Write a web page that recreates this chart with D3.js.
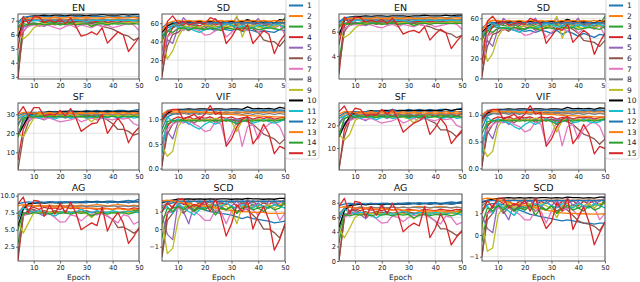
<!DOCTYPE html>
<html>
<head>
<meta charset="utf-8">
<script src="https://cdn.jsdelivr.net/npm/d3@7"></script>
<style>
  body { margin: 0; background: #fff; }
  svg { display: block; font-family: "DejaVu Sans", sans-serif; }
</style>
</head>
<body>
<div id="chart"></div>
<script>
// epochs sampled every 2 epochs
const epochs = [4, 6, 8, 10, 12, 14, 16, 18, 20, 22, 24, 26, 28, 30, 32, 34, 36, 38, 40, 42, 44, 46, 48, 50];
const seriesNames = ["1", "2", "3", "4", "5", "6", "7", "8", "9", "10", "11", "12", "13", "14", "15"];
const seriesColors = ["#1f77b4", "#ff7f0e", "#2ca02c", "#d62728", "#9467bd", "#8c564b", "#e377c2", "#7f7f7f",
  "#bcbd22", "#000000", "#17becf", "#1f77b4", "#ff7f0e", "#2ca02c", "#d62728"];
const xTicks = [10, 20, 30, 40, 50];

// ---- left figure ----
const EN_L = [
  [6.6,7.0,7.05,7.0,7.0,6.95,7.0,6.95,6.9,6.95,6.9,6.95,6.9,6.9,6.85,6.9,6.9,6.85,6.9,6.85,6.9,6.85,6.9,6.9],
  [6.3,7.0,7.1,7.1,7.15,7.1,7.15,7.1,7.15,7.1,7.1,7.15,7.1,7.15,7.1,7.1,7.15,7.1,7.1,7.15,7.1,7.1,7.1,7.15],
  [4.0,6.6,6.8,6.85,6.8,6.9,6.85,6.9,6.8,6.85,6.9,6.85,6.8,6.85,6.9,6.85,6.9,6.85,6.8,6.9,6.85,6.9,6.85,6.95],
  [2.85,6.9,7.0,7.1,7.0,6.9,7.05,7.0,6.95,7.0,6.9,7.0,6.95,7.0,6.9,6.95,7.0,6.9,6.95,7.0,6.9,6.95,7.0,7.0],
  [6.0,6.5,6.7,6.8,6.7,6.6,6.8,6.75,6.8,6.7,6.8,6.75,6.8,6.85,6.8,6.75,6.8,6.8,6.85,6.8,6.9,6.85,6.8,6.9],
  [3.2,6.2,6.7,6.8,6.7,6.75,6.8,6.7,6.8,6.75,6.8,6.7,6.8,6.75,6.8,6.7,6.6,6.5,6.4,6.2,6.0,5.9,5.6,5.8],
  [5.8,6.3,6.6,6.7,6.6,6.7,6.65,6.5,6.4,6.6,6.7,6.5,6.7,6.6,6.5,6.7,6.6,6.7,6.5,6.6,6.7,6.8,6.7,6.3],
  [6.5,7.0,7.1,7.1,7.05,7.1,7.05,7.1,7.1,7.05,7.1,7.1,7.05,7.1,7.1,7.05,7.1,7.1,7.05,7.1,7.1,7.1,7.05,7.1],
  [6.2,5.7,6.0,6.5,6.7,6.8,6.75,6.8,6.7,6.8,6.75,6.8,6.85,6.8,6.6,6.8,6.85,6.8,6.85,6.8,6.85,6.9,6.85,6.9],
  [5.8,7.0,7.3,7.35,7.35,7.4,7.35,7.4,7.4,7.35,7.4,7.4,7.4,7.35,7.4,7.4,7.45,7.4,7.4,7.4,7.45,7.4,7.45,7.45],
  [6.8,7.1,6.9,7.0,7.05,7.0,6.9,7.0,7.05,6.95,7.0,7.05,7.0,6.95,7.0,7.05,7.0,7.05,7.0,7.05,7.0,7.05,7.0,7.05],
  [6.9,7.25,7.3,7.3,7.25,7.3,7.3,7.25,7.3,7.3,7.25,7.3,7.3,7.25,7.3,7.3,7.3,7.25,7.3,7.3,7.25,7.3,7.35,7.3],
  [6.4,7.1,7.2,7.2,7.25,7.2,7.2,7.25,7.2,7.2,7.25,7.2,7.2,7.25,7.2,7.2,7.2,7.25,7.2,7.25,7.2,7.2,7.25,7.2],
  [6.5,6.8,6.7,6.75,6.8,6.7,6.75,6.8,6.7,6.75,6.8,6.7,6.75,6.8,6.6,6.75,6.8,6.7,6.8,6.75,6.8,6.75,6.8,6.75],
  [5.0,7.3,6.8,7.3,7.25,6.9,7.0,6.9,7.1,6.8,7.2,6.6,5.9,6.0,6.2,6.0,6.5,5.4,5.8,6.2,6.0,4.8,5.3,5.8]
];
const SD_L = [
  [40,55,57,56,55,56,54,55,53,54,52,54,53,52,54,51,53,52,50,52,51,50,53,52],
  [50,58,60,61,60,62,61,60,61,62,60,61,62,61,60,61,62,61,60,61,62,61,60,61],
  [30,52,55,58,57,56,58,55,57,58,56,57,55,58,57,56,58,57,56,58,57,56,58,66],
  [2,45,55,60,58,62,59,57,60,61,58,60,59,61,58,60,62,59,60,61,58,60,59,61],
  [20,42,38,55,66,60,58,62,57,60,65,58,62,60,66,58,63,60,65,58,60,56,58,55],
  [5,35,48,50,55,52,56,54,55,57,53,56,55,57,54,55,57,54,50,42,40,40,35,42],
  [30,45,50,55,52,56,54,52,47,48,52,56,45,50,56,55,52,58,50,55,57,54,58,47],
  [45,57,59,58,60,59,58,60,59,58,60,59,58,60,59,58,60,59,58,60,59,58,60,59],
  [45,21,30,45,55,57,56,55,58,57,56,55,57,56,68,45,58,57,56,55,57,56,58,57],
  [50,57,60,61,62,61,62,62,61,62,62,61,62,62,61,62,64,62,62,61,62,60,64,63],
  [48,50,58,56,54,55,52,50,53,55,54,56,60,58,55,57,56,55,58,56,55,60,58,56],
  [55,60,61,60,61,60,61,60,61,60,61,60,61,60,61,60,61,60,61,60,61,60,61,60],
  [52,60,62,63,62,63,62,63,62,63,62,63,62,63,62,63,62,63,62,63,62,63,62,63],
  [45,52,50,54,55,53,55,54,53,55,54,52,55,54,53,55,54,55,53,54,55,54,53,56],
  [15,62,68,60,62,58,60,61,59,66,64,60,38,45,55,52,58,38,45,52,48,27,40,48]
];
const SF_L = [
  [25,29,30,30.5,31,30.5,31,31.5,31,31.5,32,31.5,31,32,31.5,32,31.5,32,31.5,32,32,31.5,32,32.5],
  [27,30,30.5,30,30.5,30,30.5,30,30.5,30,30.5,30,30.5,30,30.5,30,30,30.5,30,30.5,30,30.5,30,30.5],
  [18,27,29,29.5,29,29.5,29,29.5,29,29.5,29,29.5,29,29.5,29,29.5,29,29.5,29,29.5,29,29.5,29,30],
  [6,22,28,30,29.5,30,29,30,29.5,30,29,30,29.5,30,29,30,29.5,30,29,30,29.5,30,29,30],
  [20,26,28,29,28,27,29,28.5,29,28,29,28.5,29,28.5,29,28,29,28.5,29,28,29,28.5,29,28.5],
  [1,18,26,29,28.5,29,28,29,28.5,29,28,29,28.5,29,28,29,28.5,27,25,22,22,21,19,20],
  [18,24,27,28,28,27.5,28,27,26,26.5,27,28,26,27,28,27,28,27.5,27,28,27.5,28,25,24],
  [24,29,30,30,29.5,30,29.5,30,29.5,30,29.5,30,29.5,30,29.5,30,29.5,30,29.5,30,29.5,30,29.5,30],
  [20,18,23,28,30,29.5,29,29.5,29,29.5,29,29.5,29,28,26,28.5,29,29.5,29,29.5,29,29.5,29,29.5],
  [19,24,29,30.5,31,31,31.5,31,31.5,31.5,31,31.5,31.5,31.5,31.5,31.5,31.5,31.5,31.5,31.5,31.5,31.5,31.5,31.5],
  [28,29,30,29,28,29,28.5,27.5,28.5,29,28,28.5,29,28,28.5,29,28,28.5,29,28,28.5,29,28,28.5],
  [29,30.5,31,31,31,31,31,31,31,31,31,31,31,31,31,31,31,31,31,31,31,31,31,31],
  [30,31,31,30.5,31,30.5,31,30.5,31,30.5,31,30.5,31,30.5,31,30.5,31,30.5,31,30.5,31,30.5,31,30.5],
  [18,28,29,28.5,29,28.5,29,28.5,29,28.5,29,28.5,29,28.5,29,28.5,29,28.5,29,28.5,29,28.5,29,28.5],
  [30,34,29,33.5,33.5,29,30,29.5,32,29,33,28,21,23,25,25.5,30,20,24,28,24,15,20,23]
];
const VIF_L = [
  [0.8,1.05,1.1,1.12,1.15,1.12,1.15,1.12,1.15,1.13,1.15,1.12,1.15,1.13,1.15,1.14,1.16,1.15,1.16,1.15,1.17,1.16,1.17,1.16],
  [0.9,1.12,1.15,1.14,1.15,1.14,1.15,1.14,1.15,1.14,1.15,1.14,1.15,1.14,1.15,1.14,1.15,1.14,1.15,1.14,1.15,1.14,1.15,1.14],
  [0.5,0.9,0.95,1.0,0.98,1.0,0.97,1.0,0.98,1.0,0.97,1.0,0.98,1.0,0.97,1.0,0.98,1.0,0.97,1.0,0.98,1.0,0.97,1.02],
  [0.05,0.85,1.0,1.05,1.02,1.05,1.0,1.05,1.02,1.05,1.0,1.05,1.02,1.05,1.0,1.03,1.05,1.0,1.04,1.02,1.05,1.0,1.03,1.04],
  [0.5,0.75,0.6,0.95,1.0,0.9,1.0,0.98,1.02,0.98,1.0,0.97,1.02,0.98,1.0,0.97,1.02,0.98,1.0,0.97,1.02,0.98,1.0,0.98],
  [0.1,0.7,0.9,1.0,0.95,1.0,0.92,1.0,0.96,1.0,0.94,1.0,0.96,1.0,0.94,0.98,0.95,0.9,0.8,0.7,0.65,0.6,0.5,0.6],
  [0.6,0.8,0.9,0.95,0.92,0.98,0.9,0.85,0.75,0.78,0.95,0.9,0.5,0.7,0.95,0.45,0.85,0.9,0.6,0.8,0.9,0.95,0.85,0.6],
  [0.95,1.1,1.12,1.1,1.12,1.1,1.12,1.1,1.12,1.1,1.12,1.1,1.12,1.1,1.12,1.1,1.12,1.1,1.12,1.1,1.12,1.1,1.12,1.1],
  [0.45,0.25,0.35,0.85,1.0,0.98,1.0,0.97,1.0,0.98,1.02,0.98,1.0,0.95,0.75,0.98,1.0,0.97,1.0,0.98,1.0,0.97,1.0,1.0],
  [1.0,1.12,1.18,1.2,1.2,1.21,1.2,1.21,1.21,1.2,1.21,1.21,1.2,1.21,1.21,1.2,1.25,1.21,1.22,1.21,1.22,1.2,1.24,1.22],
  [0.3,1.05,0.95,1.0,0.95,0.92,0.85,0.8,0.9,0.95,0.9,0.95,1.0,0.95,0.92,0.95,1.0,0.92,0.95,1.0,0.95,0.92,0.95,1.0],
  [1.05,1.18,1.19,1.18,1.19,1.18,1.19,1.18,1.19,1.18,1.19,1.18,1.19,1.18,1.19,1.18,1.19,1.18,1.19,1.18,1.19,1.18,1.19,1.18],
  [1.1,1.17,1.18,1.17,1.16,1.17,1.16,1.15,1.14,1.13,1.12,1.11,1.1,1.1,1.09,1.08,1.08,1.07,1.07,1.06,1.06,1.05,1.05,1.05],
  [0.7,0.95,0.98,0.96,0.98,0.96,0.98,0.96,0.98,0.96,0.98,0.96,0.98,0.96,0.9,0.96,0.98,0.96,0.98,0.96,0.98,0.96,0.98,1.0],
  [1.0,1.15,1.2,1.2,1.0,1.05,1.1,1.0,1.1,1.28,1.1,1.15,0.45,0.6,0.85,1.0,1.05,0.5,0.65,0.9,0.7,0.3,0.45,0.4]
];
const AG_L = [
  [6.5,8.5,8.8,8.9,9.0,9.0,9.1,9.0,9.1,9.1,9.0,9.1,9.1,9.2,9.1,9.2,9.1,9.2,9.2,9.1,9.2,9.3,9.2,9.5],
  [7.0,8.5,8.6,8.5,8.6,8.5,8.6,8.5,8.6,8.5,8.6,8.5,8.6,8.5,8.6,8.7,8.6,8.5,8.6,8.7,8.6,8.5,8.6,8.5],
  [3.0,7.2,7.5,7.6,7.5,7.6,7.5,7.6,7.5,7.6,7.5,7.6,7.5,7.6,7.5,7.6,7.5,7.6,7.5,7.6,7.5,7.6,7.8,8.0],
  [0.5,7.0,8.0,8.3,8.0,8.3,8.1,8.2,8.0,8.3,8.1,8.2,8.0,8.2,8.1,8.0,8.2,8.1,8.0,8.2,8.1,8.0,8.2,8.1],
  [5.5,7.5,7.3,7.8,7.4,7.0,7.6,7.5,7.7,7.4,7.6,7.5,7.7,7.5,7.6,7.4,7.7,7.5,7.6,7.4,7.7,7.6,7.5,7.7],
  [1.5,7.0,7.8,8.0,7.6,7.8,7.5,7.8,7.6,7.8,7.5,7.7,7.6,7.8,7.5,7.7,7.4,7.0,6.5,5.3,5.4,5.0,4.5,5.0],
  [5.8,7.0,7.4,7.6,7.4,7.5,7.3,6.8,6.1,6.2,7.2,7.0,6.3,7.0,7.3,7.2,7.4,7.0,6.5,6.0,7.2,7.0,5.8,6.2],
  [7.5,8.3,8.5,8.4,8.5,8.4,8.5,8.4,8.5,8.4,8.5,8.4,8.5,8.4,8.5,8.4,8.5,8.4,8.5,8.4,8.5,8.4,8.5,8.4],
  [6.2,4.5,6.0,7.5,7.6,7.5,7.6,7.5,7.6,7.5,7.6,7.5,7.6,7.4,6.8,7.5,7.6,7.5,7.6,7.5,7.6,7.5,7.6,7.6],
  [5.5,8.0,8.8,8.9,9.0,8.9,9.0,9.0,8.9,9.0,9.0,9.0,9.0,9.0,9.1,9.0,9.1,9.0,9.1,9.0,9.1,9.0,9.1,9.1],
  [7.2,8.2,7.8,7.5,7.8,7.6,7.4,7.0,7.5,7.8,7.5,7.6,8.0,7.6,7.5,7.8,7.6,7.5,7.8,7.6,7.5,7.8,7.6,7.5],
  [8.8,9.0,9.1,9.0,9.1,9.0,9.1,9.0,9.1,9.0,9.1,9.0,9.1,9.0,9.1,9.0,9.1,9.0,9.1,9.0,9.1,9.0,9.1,9.2],
  [8.5,8.7,8.6,8.5,8.4,8.5,8.4,8.3,8.4,8.3,8.2,8.3,8.2,8.1,8.2,8.1,8.0,8.1,8.0,8.1,8.0,7.9,8.0,8.0],
  [5.0,7.5,7.3,7.5,7.4,7.5,7.3,7.5,7.4,7.5,7.3,7.5,7.4,7.5,7.0,7.4,7.5,7.3,7.5,7.4,7.5,7.3,7.5,8.0],
  [8.8,9.8,7.5,9.3,9.2,7.0,8.6,7.3,8.8,7.5,9.0,7.5,5.0,5.5,6.0,5.6,8.3,4.8,6.5,7.5,6.0,3.0,4.0,5.3]
];
const SCD_L = [
  [1.2,1.4,1.5,1.5,1.45,1.35,1.3,1.2,1.1,1.0,0.95,0.9,0.85,0.8,0.7,0.6,0.7,0.6,0.55,0.5,0.45,0.35,0.4,0.45],
  [1.0,1.5,1.6,1.55,1.6,1.55,1.6,1.55,1.6,1.55,1.6,1.55,1.6,1.55,1.6,1.55,1.6,1.55,1.6,1.55,1.6,1.55,1.6,1.55],
  [-0.5,0.9,1.2,1.3,1.2,1.4,1.1,1.3,1.2,1.4,1.2,1.3,1.1,1.3,0.9,1.3,1.2,1.4,1.2,1.3,1.2,1.4,1.3,1.6],
  [-1.5,0.9,1.3,1.6,1.4,1.6,1.3,1.5,1.4,1.6,1.3,1.5,1.4,1.6,1.3,1.5,1.4,1.6,1.3,1.5,1.4,1.6,1.3,1.5],
  [0.8,-0.3,-0.6,1.5,1.0,0.3,1.4,1.2,1.6,1.3,1.7,1.2,1.5,1.3,1.6,1.2,1.7,1.3,1.5,1.2,1.6,1.4,1.5,1.7],
  [-1.6,0.5,0.9,1.3,0.9,1.2,1.0,1.3,1.1,1.3,1.0,1.2,1.1,1.3,1.0,1.2,1.1,0.8,0.5,0.0,0.0,-0.2,-0.5,0.2],
  [0.6,0.9,1.0,1.2,1.1,1.2,1.0,0.8,0.5,0.5,1.1,1.0,0.3,1.0,1.3,1.0,1.2,1.1,0.8,1.2,1.4,1.2,0.5,0.9],
  [1.3,1.5,1.6,1.5,1.6,1.5,1.6,1.5,1.6,1.5,1.6,1.5,1.6,1.5,1.6,1.5,1.6,1.5,1.6,1.5,1.6,1.5,1.6,1.5],
  [0.5,-1.4,-1.1,0.5,1.3,1.4,1.2,1.4,1.3,1.4,1.2,1.4,1.3,1.1,0.3,1.3,1.4,1.2,1.4,1.3,1.4,1.2,1.4,1.4],
  [1.5,1.6,1.65,1.7,1.7,1.72,1.7,1.72,1.7,1.72,1.7,1.72,1.72,1.7,1.72,1.7,1.75,1.72,1.72,1.7,1.72,1.7,1.75,1.75],
  [1.0,1.3,0.9,1.5,1.2,1.0,0.8,1.1,1.3,1.2,1.4,1.3,1.5,1.3,1.2,1.4,1.3,1.2,1.4,1.3,1.2,1.4,1.3,1.2],
  [1.55,1.6,1.58,1.6,1.58,1.6,1.58,1.6,1.58,1.6,1.58,1.6,1.58,1.6,1.58,1.6,1.58,1.6,1.58,1.6,1.58,1.6,1.58,1.6],
  [1.6,1.65,1.6,1.55,1.5,1.45,1.4,1.35,1.3,1.25,1.2,1.15,1.1,1.05,1.0,1.0,0.98,0.95,0.95,0.95,0.9,0.9,0.9,0.92],
  [0.3,1.2,1.0,1.3,1.1,1.3,1.0,1.2,1.1,1.3,0.8,1.2,1.1,1.3,0.9,1.2,1.3,1.1,1.2,1.0,1.3,1.1,1.2,1.5],
  [1.0,1.5,1.2,1.7,1.7,1.2,1.4,1.3,1.6,1.0,1.7,0.8,-0.4,0.3,1.4,1.0,1.6,0.0,0.8,1.3,0.5,-1.2,-0.6,0.3]
];

// ---- right figure ----
const EN_R = [
  [6.5,6.9,7.0,6.95,6.9,6.95,6.9,6.85,6.9,6.85,6.9,6.85,6.8,6.85,6.8,6.85,6.8,6.8,6.75,6.8,6.75,6.8,6.75,6.8],
  [6.3,7.0,7.05,7.0,7.05,7.0,7.05,7.0,7.05,7.0,7.05,7.0,7.05,7.0,7.05,7.0,7.05,7.0,7.05,7.0,7.05,7.0,7.0,7.05],
  [3.5,6.5,6.7,6.75,6.7,6.8,6.75,6.8,6.7,6.75,6.8,6.75,6.6,6.75,6.8,6.75,6.8,6.75,6.7,6.8,6.75,6.8,6.75,6.85],
  [2.5,6.6,6.9,7.0,6.9,6.8,6.95,6.9,6.85,6.9,6.8,6.9,6.85,6.9,6.8,6.85,6.9,6.8,6.85,6.9,6.8,6.85,6.9,6.9],
  [6.0,6.3,6.5,6.8,6.6,6.5,6.7,6.65,6.7,6.6,6.7,6.65,6.7,6.75,6.7,6.65,6.7,6.7,6.75,6.7,6.8,6.75,6.7,6.8],
  [3.0,6.0,6.6,6.7,6.6,6.65,6.7,6.6,6.7,6.65,6.7,6.6,6.7,6.65,6.7,6.6,6.5,6.4,6.2,6.1,5.9,5.8,5.5,5.7],
  [5.8,6.2,6.5,6.6,6.5,6.6,6.55,6.4,6.3,6.5,6.6,6.4,6.6,6.5,6.4,6.6,6.5,6.6,6.4,6.5,6.6,6.7,6.6,6.2],
  [6.4,6.9,7.0,7.0,6.95,7.0,6.95,7.0,7.0,6.95,7.0,7.0,6.95,7.0,7.0,6.95,7.0,7.0,6.95,7.0,7.0,7.0,6.95,7.0],
  [6.0,5.5,5.8,6.3,6.6,6.7,6.65,6.7,6.6,6.7,6.65,6.7,6.75,6.7,6.5,6.7,6.75,6.7,6.75,6.7,6.75,6.8,6.75,6.8],
  [5.7,6.9,7.2,7.25,7.25,7.3,7.25,7.3,7.3,7.25,7.3,7.3,7.3,7.25,7.3,7.3,7.35,7.3,7.3,7.3,7.35,7.3,7.35,7.35],
  [6.7,7.0,6.8,6.9,6.95,6.9,6.8,6.9,6.95,6.85,6.9,6.95,6.9,6.85,6.9,6.95,6.9,6.95,6.9,6.95,6.9,6.95,6.9,6.95],
  [6.8,7.15,7.2,7.2,7.15,7.2,7.2,7.15,7.2,7.2,7.15,7.2,7.2,7.15,7.2,7.2,7.2,7.15,7.2,7.2,7.15,7.2,7.25,7.2],
  [6.3,7.0,7.1,7.1,7.15,7.1,7.1,7.15,7.1,7.1,7.15,7.1,7.1,7.15,7.1,7.1,7.1,7.15,7.1,7.15,7.1,7.1,7.15,7.1],
  [6.4,6.7,6.6,6.65,6.7,6.6,6.65,6.7,6.6,6.65,6.7,6.6,6.65,6.7,6.5,6.65,6.7,6.6,6.7,6.65,6.7,6.65,6.7,6.65],
  [4.9,7.2,6.7,7.2,7.15,6.8,6.9,6.8,7.0,6.7,7.1,6.5,5.8,6.0,6.1,5.9,6.4,5.3,5.8,6.2,5.9,4.6,5.2,5.7]
];
const SD_R = [
  [38,50,52,51,50,50,48,49,47,48,46,48,47,45,48,44,47,45,42,45,43,41,44,43],
  [48,56,58,57,56,57,56,55,56,57,55,56,57,56,55,56,57,56,55,54,55,56,55,56],
  [28,48,51,54,53,52,54,51,53,54,52,53,51,54,53,52,54,53,52,54,53,52,54,62],
  [2,42,52,56,54,58,55,53,56,57,54,56,55,57,54,56,58,55,56,57,54,56,55,57],
  [18,38,32,50,60,55,52,57,52,55,60,52,57,55,60,52,58,55,60,52,55,51,53,50],
  [5,32,44,46,50,47,51,49,50,52,48,51,50,52,49,50,52,49,45,38,37,36,32,38],
  [28,42,46,50,48,51,50,47,43,44,47,51,41,46,51,50,47,53,45,50,52,49,53,42],
  [42,52,54,53,55,54,53,55,54,53,55,54,53,55,54,53,55,54,53,55,54,53,55,54],
  [42,17,25,42,50,52,51,50,53,52,51,50,52,51,62,40,53,52,51,50,52,51,53,52],
  [46,52,55,56,57,56,57,57,56,57,57,56,57,57,56,57,59,57,57,56,57,55,58,57],
  [45,46,56,52,50,51,48,46,49,51,50,52,55,54,51,53,52,51,54,52,51,55,54,52],
  [50,55,56,55,56,55,56,55,56,55,56,55,56,55,56,55,56,55,56,55,56,55,56,55],
  [48,56,58,58,57,58,57,58,57,58,57,58,57,58,57,58,57,58,57,58,57,58,57,58],
  [42,48,46,50,51,49,51,50,49,51,50,48,51,50,49,51,50,51,49,50,51,50,49,52],
  [14,57,62,55,57,53,55,56,54,60,58,55,35,42,50,48,54,36,42,48,44,24,36,45]
];
const SF_R = [
  [21,24,25,25.5,26,25.5,26,26.5,26,26.5,27,26.5,26,27,26.5,27,26.5,27,26.5,27,27,26.5,27,27.5],
  [23,25,25.5,25,25.5,25,25.5,25,25.5,25,25.5,25,25.5,25,25.5,25,25,25.5,25,25.5,25,25.5,25,25.5],
  [15,23,24,24.5,24,24.5,24,24.5,24,24.5,24,24.5,24,24.5,24,24.5,24,24.5,24,24.5,24,24.5,24,25],
  [0.5,18,23,25,24.5,25,24,25,24.5,25,24,25,24.5,25,24,25,24.5,25,24,25,24.5,25,24,25],
  [17,21,23,24,23,22,24,23.5,24,23,24,23.5,24,23.5,24,23,24,23.5,24,23,24,23.5,24,23.5],
  [1,15,22,24,23.5,24,23,24,23.5,24,23,24,23.5,24,23,24,23.5,22,21,18,18,17,15,17],
  [15,20,22,23,23,22.5,23,22,21,21.5,22,23,21,22,23,22,23,22.5,22,23,22.5,23,20,19],
  [20,24,25,25,24.5,25,24.5,25,24.5,25,24.5,25,24.5,25,24.5,25,24.5,25,24.5,25,24.5,25,24.5,25],
  [16,13.5,16,22,24,24,23.5,24,23.5,24,23.5,24,23.5,23,21,23.5,24,24,23.5,24,23.5,24,23.5,24],
  [15,20,24,25.5,26,26,26.5,26,26.5,26.5,26,26.5,26.5,26.5,26.5,26.5,26.5,26.5,26.5,26.5,27,26.5,27,27],
  [23,24,25,24,23,24,23.5,22.5,23.5,24,23,23.5,24,23,23.5,24,23,23.5,24,23,23.5,24,23,23.5],
  [24,25.5,26,26,26,26,26,26,26,26,26,26,26,26,26,26,26,26,26,26,26,26,26,26],
  [25,26,26,25.5,26,25.5,26,25.5,26,25.5,26,25.5,26,25.5,26,25.5,26,25.5,26,25.5,26,25.5,26,25.5],
  [15,23,24,23.5,24,23.5,24,23.5,24,23.5,24,23.5,24,23.5,24,23.5,24,23.5,24,23.5,24,23.5,24,23.5],
  [26,28.5,24,27.5,27,24,25,24.5,27,25,27,23,17,19,21,22,24,16,19,23,20,12,15,18]
];
const VIF_R = [
  [0.75,0.98,1.02,1.03,1.05,1.03,1.05,1.03,1.05,1.04,1.05,1.03,1.05,1.04,1.05,1.04,1.06,1.05,1.06,1.05,1.07,1.06,1.07,1.06],
  [0.85,1.03,1.06,1.05,1.06,1.05,1.06,1.05,1.06,1.05,1.06,1.05,1.06,1.05,1.06,1.05,1.06,1.05,1.06,1.05,1.06,1.05,1.06,1.05],
  [0.45,0.82,0.87,0.92,0.9,0.92,0.89,0.92,0.9,0.92,0.89,0.92,0.9,0.92,0.89,0.92,0.9,0.92,0.89,0.92,0.9,0.92,0.89,0.94],
  [0.03,0.78,0.92,0.96,0.94,0.96,0.92,0.96,0.94,0.96,0.92,0.96,0.94,0.96,0.92,0.95,0.96,0.92,0.95,0.94,0.96,0.92,0.95,0.96],
  [0.45,0.7,0.55,0.87,0.92,0.82,0.92,0.9,0.94,0.9,0.92,0.89,0.94,0.9,0.92,0.89,0.94,0.9,0.92,0.89,0.94,0.9,0.92,0.9],
  [0.08,0.65,0.82,0.92,0.87,0.92,0.85,0.92,0.88,0.92,0.86,0.92,0.88,0.92,0.86,0.9,0.87,0.82,0.73,0.64,0.6,0.55,0.45,0.55],
  [0.55,0.73,0.82,0.87,0.85,0.9,0.82,0.78,0.68,0.72,0.87,0.82,0.46,0.64,0.87,0.42,0.78,0.82,0.55,0.73,0.82,0.87,0.78,0.55],
  [0.88,1.01,1.03,1.01,1.03,1.01,1.03,1.01,1.03,1.01,1.03,1.01,1.03,1.01,1.03,1.01,1.03,1.01,1.03,1.01,1.03,1.01,1.03,1.01],
  [0.42,0.22,0.32,0.78,0.92,0.9,0.92,0.89,0.92,0.9,0.94,0.9,0.92,0.87,0.68,0.9,0.92,0.89,0.92,0.9,0.92,0.89,0.92,0.92],
  [0.92,1.03,1.08,1.1,1.1,1.11,1.1,1.11,1.11,1.1,1.11,1.11,1.1,1.11,1.11,1.1,1.14,1.11,1.12,1.11,1.12,1.1,1.13,1.12],
  [0.28,0.96,0.87,0.92,0.87,0.85,0.78,0.73,0.82,0.87,0.82,0.87,0.92,0.87,0.85,0.87,0.92,0.85,0.87,0.92,0.87,0.85,0.87,0.92],
  [0.96,1.08,1.09,1.08,1.09,1.08,1.09,1.08,1.09,1.08,1.09,1.08,1.09,1.08,1.09,1.08,1.09,1.08,1.09,1.08,1.09,1.08,1.09,1.08],
  [1.01,1.07,1.08,1.07,1.06,1.07,1.06,1.05,1.04,1.04,1.03,1.02,1.01,1.01,1.0,0.99,0.99,0.98,0.98,0.97,0.97,0.96,0.96,0.96],
  [0.65,0.87,0.9,0.88,0.9,0.88,0.9,0.88,0.9,0.88,0.9,0.88,0.9,0.88,0.82,0.88,0.9,0.88,0.9,0.88,0.9,0.88,0.9,0.92],
  [0.92,1.05,1.1,1.1,0.92,0.96,1.01,0.92,1.01,1.17,1.01,1.05,0.41,0.55,0.78,0.92,0.96,0.46,0.6,0.82,0.64,0.27,0.41,0.37]
];
const AG_R = [
  [5.6,7.4,7.7,7.8,7.8,7.8,7.9,7.8,7.9,7.9,7.8,7.9,7.9,8.0,7.9,8.0,7.9,8.0,8.0,7.9,8.0,8.1,8.0,8.2],
  [6.0,7.3,7.4,7.3,7.4,7.3,7.4,7.3,7.4,7.3,7.4,7.3,7.4,7.3,7.4,7.5,7.4,7.3,7.4,7.5,7.4,7.3,7.4,7.3],
  [2.5,6.2,6.5,6.6,6.5,6.6,6.5,6.6,6.5,6.6,6.5,6.6,6.5,6.6,6.5,6.6,6.5,6.6,6.5,6.6,6.5,6.6,6.8,7.0],
  [0.1,6.0,6.9,7.2,6.9,7.2,7.0,7.1,6.9,7.2,7.0,7.1,6.9,7.1,7.0,6.9,7.1,7.0,6.9,7.1,7.0,6.9,7.1,7.0],
  [4.7,6.5,6.3,6.8,6.4,5.8,6.6,6.5,6.7,6.4,6.6,6.5,6.7,6.5,6.6,6.4,6.7,6.5,6.6,6.4,6.7,6.6,6.5,6.7],
  [0.2,6.0,6.8,7.0,6.6,6.8,6.5,6.8,6.6,6.8,6.5,6.7,6.6,6.8,6.5,6.7,6.4,6.0,5.5,4.4,4.4,4.0,3.5,4.0],
  [5.0,6.0,6.4,6.6,6.4,6.5,6.3,5.8,5.2,5.3,6.2,6.0,5.4,6.0,6.3,6.2,6.4,6.0,5.5,5.1,6.2,6.0,5.0,5.3],
  [6.5,7.2,7.4,7.3,7.4,7.3,7.4,7.3,7.4,7.3,7.4,7.3,7.4,7.3,7.4,7.3,7.4,7.3,7.4,7.3,7.4,7.3,7.4,7.3],
  [4.5,3.2,4.5,6.0,6.5,6.6,6.5,6.6,6.5,6.6,6.5,6.6,6.5,6.4,5.8,6.5,6.6,6.5,6.6,6.5,6.6,6.5,6.6,6.6],
  [4.6,6.9,7.6,7.7,7.8,7.7,7.8,7.8,7.7,7.8,7.8,7.8,7.8,7.8,7.9,7.8,7.9,7.8,7.9,7.8,7.9,7.8,7.9,8.0],
  [6.2,7.1,6.7,6.5,6.7,6.5,6.3,5.9,6.4,6.7,6.4,6.5,6.9,6.5,6.4,6.7,6.5,6.4,6.7,6.5,6.4,6.7,6.5,6.3],
  [7.6,7.8,7.9,7.8,7.9,7.8,7.9,7.8,7.9,7.8,7.9,7.8,7.9,7.8,7.9,7.8,7.9,7.8,7.9,7.8,7.9,7.8,7.9,8.0],
  [7.3,7.5,7.4,7.3,7.2,7.3,7.2,7.1,7.2,7.1,7.0,7.1,7.0,6.9,7.0,6.9,6.8,6.9,6.8,6.9,6.8,6.7,6.8,6.8],
  [4.0,6.4,6.2,6.4,6.3,6.4,6.2,6.4,6.3,6.4,6.2,6.4,6.3,6.4,5.9,6.3,6.4,6.2,6.4,6.3,6.4,6.2,6.4,6.9],
  [7.5,8.6,6.5,8.2,8.0,6.0,7.5,6.3,7.7,6.5,7.9,6.5,4.0,4.7,5.2,4.8,7.5,3.2,4.5,6.5,5.0,2.2,3.3,4.2]
];
const SCD_R = [
  [1.2,1.4,1.45,1.45,1.4,1.3,1.25,1.15,1.05,0.95,0.9,0.85,0.8,0.75,0.7,0.65,0.7,0.65,0.6,0.55,0.55,0.5,0.55,0.55],
  [1.1,1.55,1.62,1.6,1.62,1.6,1.62,1.6,1.62,1.6,1.62,1.6,1.62,1.6,1.62,1.6,1.62,1.6,1.62,1.6,1.62,1.6,1.62,1.6],
  [-0.3,1.0,1.25,1.35,1.25,1.4,1.15,1.35,1.25,1.4,1.25,1.35,1.15,1.35,1.0,1.35,1.25,1.4,1.25,1.35,1.25,1.4,1.35,1.6],
  [-1.0,1.0,1.35,1.6,1.45,1.6,1.35,1.55,1.45,1.6,1.35,1.55,1.45,1.6,1.35,1.55,1.45,1.6,1.35,1.55,1.45,1.6,1.35,1.55],
  [0.9,0.3,0.1,1.5,1.1,0.7,1.45,1.25,1.6,1.35,1.7,1.25,1.55,1.35,1.6,1.25,1.7,1.35,1.55,1.25,1.6,1.45,1.55,1.7],
  [-0.9,0.7,1.0,1.35,1.0,1.25,1.1,1.35,1.15,1.35,1.1,1.25,1.15,1.35,1.1,1.25,1.15,0.9,0.65,0.55,0.5,0.4,0.2,0.6],
  [0.7,1.0,1.1,1.25,1.15,1.25,1.1,0.95,0.7,0.7,1.15,1.1,0.55,1.1,1.35,1.1,1.25,1.15,0.9,1.25,1.4,1.25,0.7,1.0],
  [1.35,1.55,1.62,1.55,1.62,1.55,1.62,1.55,1.62,1.55,1.62,1.55,1.62,1.55,1.62,1.55,1.62,1.55,1.62,1.55,1.62,1.55,1.62,1.55],
  [0.6,-0.75,-0.6,0.9,1.35,1.45,1.25,1.45,1.35,1.45,1.25,1.45,1.35,1.2,0.8,1.35,1.45,1.25,1.45,1.35,1.45,1.25,1.45,1.45],
  [1.5,1.6,1.65,1.68,1.7,1.72,1.7,1.72,1.7,1.72,1.7,1.72,1.72,1.7,1.72,1.7,1.75,1.72,1.72,1.7,1.72,1.7,1.75,1.75],
  [1.1,1.35,1.0,1.5,1.25,1.1,0.9,1.2,1.35,1.25,1.45,1.35,1.5,1.35,1.25,1.45,1.35,1.25,1.45,1.35,1.25,1.45,1.35,1.25],
  [1.55,1.6,1.58,1.6,1.58,1.6,1.58,1.6,1.58,1.6,1.58,1.6,1.58,1.6,1.58,1.6,1.58,1.6,1.58,1.6,1.58,1.6,1.58,1.6],
  [1.65,1.7,1.68,1.62,1.55,1.5,1.45,1.4,1.35,1.3,1.25,1.2,1.15,1.1,1.05,1.02,1.0,1.0,0.98,0.98,0.96,0.96,0.96,0.98],
  [0.5,1.25,1.1,1.35,1.15,1.35,1.1,1.25,1.15,1.35,0.9,1.25,1.15,1.35,1.0,1.25,1.35,1.15,1.25,1.1,1.35,1.15,1.25,1.55],
  [1.0,1.6,1.25,1.7,1.7,1.25,1.45,1.35,1.6,1.1,1.7,0.9,0.3,0.6,1.5,1.1,1.7,0.25,0.8,1.3,0.6,-0.45,0.1,0.6]
];

// axis setup per panel: [figure, row, col, title, data, y domain, y ticks, tick format]
const panels = [
  [0, 0, 0, "EN", EN_L, [2.84, 7.48], [3, 4, 5, 6, 7], "d"],
  [0, 0, 1, "SD", SD_L, [-0.5, 70], [0, 20, 40, 60], "d"],
  [0, 1, 0, "SF", SF_L, [0.7, 35.9], [10, 20, 30], "d"],
  [0, 1, 1, "VIF", VIF_L, [-0.03, 1.33], [0, 0.5, 1], ".1f"],
  [0, 2, 0, "AG", AG_L, [0.4, 10.25], [2.5, 5, 7.5, 10], ".1f"],
  [0, 2, 1, "SCD", SCD_L, [-1.82, 2.0], [-1, 0, 1], "d"],
  [1, 0, 0, "EN", EN_R, [2.1, 7.45], [4, 6], "d"],
  [1, 0, 1, "SD", SD_R, [-0.5, 64.3], [0, 20, 40, 60], "d"],
  [1, 1, 0, "SF", SF_R, [0.4, 29.8], [10, 20], "d"],
  [1, 1, 1, "VIF", VIF_R, [-0.03, 1.22], [0, 0.5, 1], ".1f"],
  [1, 2, 0, "AG", AG_R, [0, 9.2], [0, 2, 4, 6, 8], "d"],
  [1, 2, 1, "SCD", SCD_R, [-1.2, 1.89], [-1, 0, 1], "d"]
];

const width = 640;
const height = 282;
const colX = [[18, 139], [162, 285], [339, 462], [482, 605]];
const rowY = [[14, 79], [103, 170], [194, 261]];
const legendX = [286, 606];

const svg = d3.select("#chart").append("svg")
  .attr("width", width)
  .attr("height", height);

const minus = s => s.replace("-", "\u2212");

panels.forEach(([fig, row, col, title, data, yDomain, yTicks, fmt], pi) => {
  const [x0, x1] = colX[fig * 2 + col];
  const [y0, y1] = rowY[row];

  const xScale = d3.scaleLinear().domain([4, 50]).range([x0, x1]);
  const yScale = d3.scaleLinear().domain(yDomain).range([y1, y0]);

  const g = svg.append("g");

  // grid
  g.append("g").selectAll("line").data(xTicks).enter().append("line")
    .attr("x1", d => xScale(d)).attr("x2", d => xScale(d))
    .attr("y1", y0).attr("y2", y1)
    .attr("stroke", "#dcdcdc").attr("stroke-width", 0.8);
  g.append("g").selectAll("line").data(yTicks).enter().append("line")
    .attr("x1", x0).attr("x2", x1)
    .attr("y1", d => yScale(d)).attr("y2", d => yScale(d))
    .attr("stroke", "#dcdcdc").attr("stroke-width", 0.8);

  const clipId = "clip" + pi;
  svg.append("clipPath").attr("id", clipId).append("rect")
    .attr("x", x0).attr("y", y0).attr("width", x1 - x0).attr("height", y1 - y0);

  const line = d3.line()
    .x((d, i) => xScale(epochs[i]))
    .y(d => yScale(d));

  g.append("g").attr("clip-path", `url(#${clipId})`)
    .selectAll("path").data(data).enter().append("path")
    .attr("d", line)
    .attr("fill", "none")
    .attr("stroke", (d, i) => seriesColors[i])
    .attr("stroke-width", 1.3)
    .attr("stroke-linejoin", "round");

  // frame
  g.append("rect")
    .attr("x", x0).attr("y", y0).attr("width", x1 - x0).attr("height", y1 - y0)
    .attr("fill", "none").attr("stroke", "#444").attr("stroke-width", 0.9);

  // axes
  const xAxisG = g.append("g")
    .attr("transform", `translate(0,${y1})`)
    .call(d3.axisBottom(xScale).tickValues(xTicks).tickSize(2.5).tickPadding(1.5).tickFormat(d3.format("d")));
  const yAxisG = g.append("g")
    .attr("transform", `translate(${x0},0)`)
    .call(d3.axisLeft(yScale).tickValues(yTicks).tickSize(2).tickPadding(1).tickFormat(d => minus(d3.format(fmt)(d))));
  [xAxisG, yAxisG].forEach(a => {
    a.select(".domain").remove();
    a.selectAll("line").attr("stroke", "#444").attr("stroke-width", 0.8);
    a.selectAll("text").attr("fill", "#222").style("font-size", "6.6px").style("font-family", "DejaVu Sans");
  });

  g.append("text")
    .attr("x", (x0 + x1) / 2).attr("y", y0 - 3)
    .attr("text-anchor", "middle")
    .style("font-size", "9.5px").attr("fill", "#111")
    .text(title);

  if (row === 2) {
    g.append("text")
      .attr("x", (x0 + x1) / 2).attr("y", y1 + 18.5)
      .attr("text-anchor", "middle")
      .style("font-size", "7.5px").attr("fill", "#222")
      .text("Epoch");
  }
});

// legends
legendX.forEach(lx => {
  const lg = svg.append("g").attr("transform", `translate(${lx},0)`);
  lg.append("rect")
    .attr("x", 0).attr("y", -3).attr("width", 33).attr("height", 162).attr("rx", 2)
    .attr("fill", "#fff").attr("fill-opacity", 0.9).attr("stroke", "#ccc").attr("stroke-width", 0.8);
  const item = lg.selectAll("g").data(seriesNames).enter().append("g")
    .attr("transform", (d, i) => `translate(0,${5.5 + i * 10.55})`);
  item.append("line")
    .attr("x1", 3).attr("x2", 17).attr("y1", 0).attr("y2", 0)
    .attr("stroke", (d, i) => seriesColors[i]).attr("stroke-width", 2);
  item.append("text")
    .attr("x", 21).attr("y", 2.7)
    .style("font-size", "7.5px").attr("fill", "#222")
    .text(d => d);
});
</script>
</body>
</html>
